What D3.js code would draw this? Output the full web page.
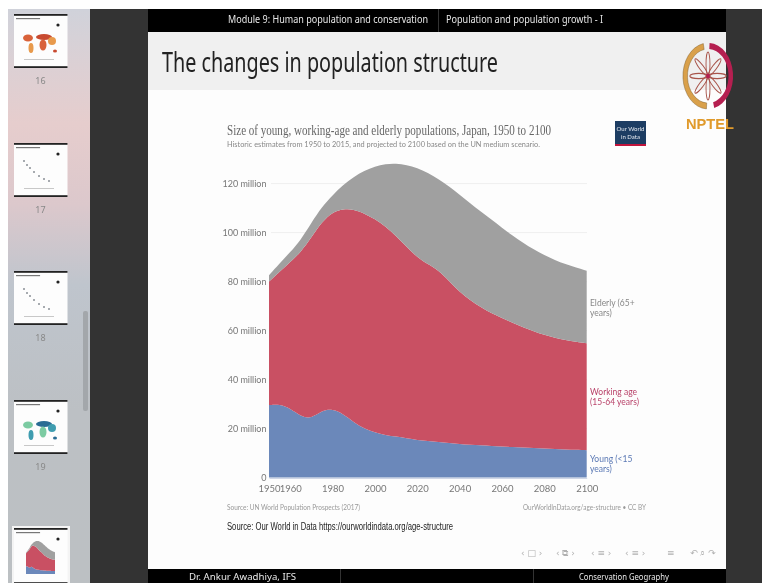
<!DOCTYPE html>
<html><head><meta charset="utf-8">
<script src="https://cdn.jsdelivr.net/npm/d3@7"></script>
<style>
html,body{margin:0;padding:0;background:#fff;overflow:hidden}
svg{display:block;filter:blur(0.6px)}
</style></head><body>
<svg id="c" width="762" height="583"></svg>
<script>
const years = d3.range(1950, 2101, 5);
const young = [29.6,30,28.3,25,24,27.4,28,26,22.6,20,18.5,17.3,16.8,16,15.3,15,14.5,14.1,13.7,13.4,13.2,12.9,12.7,12.5,12.3,12.1,11.9,11.7,11.5,11.35,11.2];
const working = [50.4,54,59.7,67,74,77,80.4,83.6,86.9,87.8,87,85.3,81.8,78.2,74.6,72.1,70.2,66.2,62.1,59,56.4,54.2,52.5,50.7,49.1,47.6,46.3,45.4,44.6,44.05,43.6];
const elderly = [2.6,3.5,4,5,6,6.1,6.9,9.8,13.3,17.4,21.5,25.4,29.6,33.4,36.5,37.3,37.2,38.5,39.7,39.6,39,38.2,36.8,35.6,34.4,33.4,32.6,31.7,31,30.3,29.6];
const seriesKeys = ["young","working","elderly"];
const seriesColors = ["#6b88ba","#c95063","#a0a0a0"];
const yTicks = [0,20,40,60,80,100,120];
const xTicks = [1950,1960,1980,2000,2020,2040,2060,2080,2100];
const thumbNumbers = ["16","17","18","19"];

const rows = years.map((y,i)=>({year:y,young:young[i],working:working[i],elderly:elderly[i]}));
const stacked = d3.stack().keys(seriesKeys)(rows);
const svg = d3.select("#c");
const defs = svg.append("defs");
const g1 = defs.append("linearGradient").attr("id","side").attr("x1",0).attr("x2",0).attr("y1",0).attr("y2",1);
[[0,"#d0d2da"],[0.1,"#dcd0d4"],[0.2,"#e6cdcd"],[0.34,"#dcc8cc"],[0.48,"#bfc5cd"],[0.7,"#bcc0c4"],[1,"#bcc0c3"]]
  .forEach(s=>g1.append("stop").attr("offset",s[0]).attr("stop-color",s[1]));

function rect(p,x,y,w,h,f){return p.append("rect").attr("x",x).attr("y",y).attr("width",w).attr("height",h).attr("fill",f);}
function text(p,s,x,y,size,fill,font,opt={}){
  const t=p.append("text").attr("x",x).attr("y",y).attr("font-size",size).attr("fill",fill).attr("font-family",font).text(s);
  if(opt.anchor)t.attr("text-anchor",opt.anchor);
  if(opt.len)t.attr("textLength",opt.len).attr("lengthAdjust","spacingAndGlyphs");
  if(opt.weight)t.attr("font-weight",opt.weight);
  return t;
}
// page frame
rect(svg,0,0,762,583,"#ffffff");
rect(svg,8,9,82,574,"url(#side)");
rect(svg,90,9,58,574,"#333333");
rect(svg,726,9,36,574,"#333333");
rect(svg,148,9,578,574,"#fdfdfd");
rect(svg,148,9,578,23,"#000000");
rect(svg,148,32,578,58,"#f0f0f0");
rect(svg,148,569,578,14,"#000000");
rect(svg,83,311,5,100,"#a3a7ab").attr("rx",2);

// header and footer text
const cm="'Noto Sans','Open Sans',sans-serif";
text(svg,"Module 9: Human population and conservation",228,23,10,"#e8e8e8",cm,{len:200});
rect(svg,438,9,1,23,"#333");
text(svg,"Population and population growth - I",446,23,10,"#e8e8e8",cm,{len:157});
text(svg,"The changes in population structure",162,72,27,"#222",cm,{len:336});
text(svg,"Dr. Ankur Awadhiya, IFS",189,580,9.5,"#e8e8e8",cm,{len:107});
text(svg,"Conservation Geography",579,580,9.5,"#e8e8e8",cm,{len:90});
rect(svg,340,569,1,14,"#333");rect(svg,533,569,1,14,"#333");
text(svg,"Source: Our World in Data https://ourworldindata.org/age-structure",227,530,10,"#222","'Liberation Sans',sans-serif",{len:226});

// nav symbols
[["‹ □ ›",521],["‹ ⧉ ›",556],["‹ ≡ ›",591],["‹ ≡ ›",625],["≡",667],["↶ ⌕ ↷",690]].forEach(d=>{
  text(svg,d[0],d[1],556,9,"#b0b0b0","'DejaVu Sans',sans-serif");
});

// chart
const x=d3.scaleLinear().domain([1950,2100]).range([269,586.7]);
const y=d3.scaleLinear().domain([0,120]).range([477.6,183.6]);
const chart=svg.append("g");
chart.append("g").selectAll("line").data(yTicks.slice(1)).join("line")
  .attr("x1",271).attr("x2",587).attr("y1",d=>y(d)).attr("y2",d=>y(d))
  .attr("stroke","#efefef").attr("stroke-width",1);
const area=d3.area().x(d=>x(d.data.year)).y0(d=>y(d[0])).y1(d=>y(d[1])).curve(d3.curveBasis);
chart.append("g").selectAll("path").data(stacked).join("path")
  .attr("d",area).attr("fill",(d,i)=>seriesColors[i]);
const axisY=d3.axisLeft(y).tickValues(yTicks).tickSize(0).tickFormat(d=>d===0?"0":d+" million");
const gy=chart.append("g").attr("transform","translate(266.5,0)").call(axisY);
gy.select(".domain").remove();
gy.selectAll("text").attr("font-family","Lato,sans-serif").attr("font-size",9).attr("fill","#777").attr("x",0).attr("dy","0.32em");
const axisX=d3.axisBottom(x).tickValues(xTicks).tickSize(0).tickFormat(d3.format("d"));
const gx=chart.append("g").attr("transform","translate(0,478)").call(axisX);
gx.select(".domain").attr("stroke","#cfd6e6");
gx.selectAll("text").attr("font-family","Lato,sans-serif").attr("font-size",9.5).attr("fill","#777").attr("y",7).attr("dy","0.71em");

const lato="Lato,sans-serif";
text(svg,"Size of young, working-age and elderly populations, Japan, 1950 to 2100",227,135,14,"#666","'Liberation Serif',serif",{len:324});
text(svg,"Historic estimates from 1950 to 2015, and projected to 2100 based on the UN medium scenario.",227,147,7.5,"#888",lato,{len:313});
text(svg,"Source: UN World Population Prospects (2017)",227,510,7.5,"#999",lato,{len:133});
text(svg,"OurWorldInData.org/age-structure • CC BY",523,510,7.5,"#999",lato,{len:123});
[["Elderly (65+","years)",306,"#888"],["Working age","(15-64 years)",395,"#b9436a"],["Young (<15","years)",462,"#5a78b4"]].forEach(d=>{
  text(svg,d[0],590,d[2],8.5,d[3],lato);
  text(svg,d[1],590,d[2]+10,8.5,d[3],lato);
});

// OWID logo
rect(svg,615,121,31,25,"#1d3d63");
rect(svg,615,144,31,2,"#c0143c");
text(svg,"Our World",630.5,131,6,"#e8ecf2",lato,{anchor:"middle"});
text(svg,"in Data",630.5,139,6,"#e8ecf2",lato,{anchor:"middle"});

// NPTEL logo
const logo=svg.append("g").attr("transform","translate(708,76) scale(0.76,1)");
const arc=d3.arc().innerRadius(27).outerRadius(33);
logo.append("path").attr("d",arc({startAngle:-Math.PI*0.98,endAngle:Math.PI*-0.06})).attr("fill","#d9a04a").attr("stroke","#7a5a2a").attr("stroke-width",0.5);
logo.append("path").attr("d",arc({startAngle:Math.PI*0.02,endAngle:Math.PI*0.92})).attr("fill","#b51f50");
d3.range(8).forEach(i=>{
  logo.append("ellipse").attr("cx",0).attr("cy",-12).attr("rx",2.6).attr("ry",12)
    .attr("transform",`rotate(${i*45})`).attr("fill","none").attr("stroke","#a8544a").attr("stroke-width",1.2);
});
logo.append("circle").attr("r",2.5).attr("fill","#b51f50");
text(svg,"NPTEL",686,129,15,"#e09a2b","'Liberation Sans',sans-serif",{weight:"bold",len:48});

// sidebar thumbnails
const thumbTops=[14,143,271,400];
function thumb(top,left,w,h){
  const g=svg.append("g");
  rect(g,left,top,w,h,"#fdfdfd");
  rect(g,left,top,w,1.8,"#222");
  rect(g,left,top+h-1.8,w,1.8,"#222");
  rect(g,left+2,top+4,w*0.45,1.2,"#777");
  g.append("circle").attr("cx",left+44).attr("cy",top+11).attr("r",1.6).attr("fill","#222");
  return g;
}
thumbTops.forEach((t,i)=>{
  const g=thumb(t,14,53.5,54);
  text(svg,thumbNumbers[i],40.5,t+70,9,"#888","'Noto Sans',sans-serif",{anchor:"middle"});
  if(i===0||i===3){
    const c=i===0?["#d9623a","#e89a4c","#c84a30"]:["#7ccba2","#3f9db0","#2a6c94"];
    [[28,24,5,3.5],[31,34,2.5,5],[44,23,8,3],[43,31,3.5,5.5],[52,27,4,4],[55,37,2,1.5]].forEach((b,k)=>{
      g.append("ellipse").attr("cx",b[0]).attr("cy",t+b[1]+(i===3?1:0)).attr("rx",b[2]).attr("ry",b[3]).attr("fill",c[k%3]);
    });
  } else {
    [[24,18],[27,22],[30,25],[34,29],[39,33],[44,36],[49,38]].forEach(p=>{
      g.append("circle").attr("cx",p[0]).attr("cy",t+p[1]).attr("r",1).attr("fill","#8a8f96");
    });
  }
  rect(g,24,t+45,30,0.8,"#bbb");
});
rect(svg,12,526,58,57,"#f4f4f4");
const tg=thumb(528,14,53.5,56);
const mx=d3.scaleLinear().domain([1950,2100]).range([26,55]);
const my=d3.scaleLinear().domain([0,120]).range([574,543]);
const miniArea=d3.area().x(d=>mx(d.data.year)).y0(d=>my(d[0])).y1(d=>my(d[1])).curve(d3.curveBasis);
tg.append("g").selectAll("path").data(stacked).join("path").attr("d",miniArea).attr("fill",(d,i)=>seriesColors[i]);
</script>
</body></html>
